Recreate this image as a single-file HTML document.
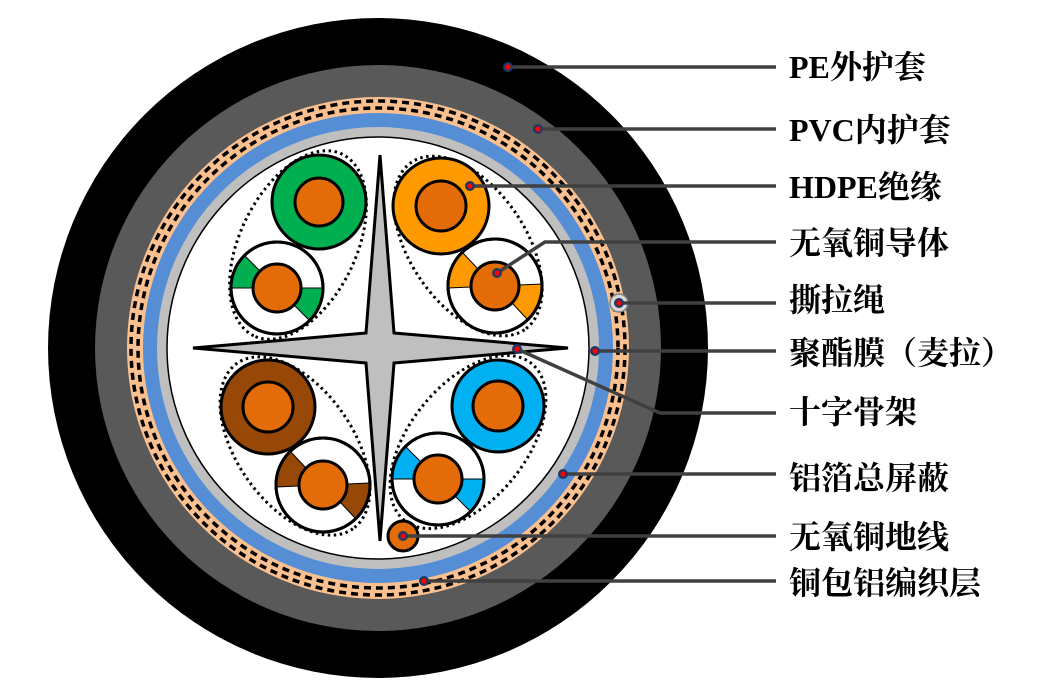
<!DOCTYPE html>
<html><head><meta charset="utf-8"><style>
html,body{margin:0;padding:0;background:#fff;width:1042px;height:688px;overflow:hidden}
text{font-family:"Liberation Serif","Noto Serif CJK SC",serif;font-weight:bold;font-size:32px;fill:#000}
</style></head><body>
<svg width="1042" height="688" viewBox="0 0 1042 688" xmlns="http://www.w3.org/2000/svg">
<defs>
<g id="dot"><circle r="5" fill="#1f3864"/><circle r="2.6" fill="#ff0000"/></g>
</defs>
<circle cx="378" cy="348" r="330" fill="#000"/>
<circle cx="378" cy="348" r="283" fill="#595959"/>
<circle cx="378" cy="348" r="251" fill="#fac090"/>
<circle cx="378" cy="348" r="247" fill="none" stroke="#000" stroke-width="3.5" stroke-dasharray="7,5"/>
<circle cx="378" cy="348" r="240" fill="none" stroke="#000" stroke-width="3.5" stroke-dasharray="7,5"/>
<circle cx="378" cy="348" r="235" fill="#558ed5"/>
<circle cx="378" cy="348" r="221" fill="#bfbfbf"/>
<circle cx="378" cy="348" r="211" fill="#fff" stroke="#000" stroke-width="1.5"/>

<g fill="none" stroke="#000" stroke-width="3" stroke-dasharray="2.5,3.5">
<ellipse cx="298" cy="245" rx="101" ry="58" transform="rotate(116 298 245)"/>
<ellipse cx="468" cy="246" rx="101" ry="58" transform="rotate(56 468 246)"/>
<ellipse cx="295" cy="446" rx="101" ry="58" transform="rotate(55 295 446)"/>
<ellipse cx="468" cy="442" rx="101" ry="58" transform="rotate(129 468 442)"/>
</g>

<g stroke="#000" stroke-width="3">
<circle cx="319" cy="202" r="47" fill="#00b050"/><circle cx="319" cy="202" r="24" fill="#e36c09"/>
<circle cx="441" cy="206" r="48" fill="#ff9900"/><circle cx="441" cy="206" r="25" fill="#e36c09"/>
<circle cx="268" cy="407" r="47" fill="#974706"/><circle cx="268" cy="407" r="25" fill="#e36c09"/>
<circle cx="498" cy="406" r="46" fill="#00b0f0"/><circle cx="498" cy="406" r="25" fill="#e36c09"/>
</g>

<g>
<circle cx="277" cy="288" r="46" fill="#fff" stroke="#000" stroke-width="3"/>
<path d="M231,288 L253,288 A24,24 0 0 1 260,271 L244.5,255.5 A46,46 0 0 0 231,288Z" fill="#00b050" stroke="#000" stroke-width="1"/>
<path d="M323,288 L301,288 A24,24 0 0 1 294,305 L309.5,320.5 A46,46 0 0 0 323,288Z" fill="#00b050" stroke="#000" stroke-width="1"/>
<circle cx="277" cy="288" r="46" fill="none" stroke="#000" stroke-width="3"/>
<circle cx="277" cy="288" r="24" fill="#e36c09" stroke="#000" stroke-width="3"/>
</g>
<g>
<circle cx="495" cy="286" r="47" fill="#fff" stroke="#000" stroke-width="3"/>
<path d="M448,288 L471,287 A24,24 0 0 1 478,269 L462,252 A47,47 0 0 0 448,288Z" fill="#ff9900" stroke="#000" stroke-width="1"/>
<path d="M542,284 L519,285 A24,24 0 0 1 512,303 L528,320 A47,47 0 0 0 542,284Z" fill="#ff9900" stroke="#000" stroke-width="1"/>
<circle cx="495" cy="286" r="47" fill="none" stroke="#000" stroke-width="3"/>
<circle cx="495" cy="286" r="24" fill="#e36c09" stroke="#000" stroke-width="3"/>
</g>
<g>
<circle cx="323" cy="485" r="47" fill="#fff" stroke="#000" stroke-width="3"/>
<path d="M276,487 L299,486 A24,24 0 0 1 306,468 L290,451 A47,47 0 0 0 276,487Z" fill="#974706" stroke="#000" stroke-width="1"/>
<path d="M370,483 L347,484 A24,24 0 0 1 340,502 L356,519 A47,47 0 0 0 370,483Z" fill="#974706" stroke="#000" stroke-width="1"/>
<circle cx="323" cy="485" r="47" fill="none" stroke="#000" stroke-width="3"/>
<circle cx="323" cy="485" r="24" fill="#e36c09" stroke="#000" stroke-width="3"/>
</g>
<g>
<circle cx="438" cy="479" r="46" fill="#fff" stroke="#000" stroke-width="3"/>
<path d="M392,479 L414,479 A24,24 0 0 1 421,462 L405.5,446.5 A46,46 0 0 0 392,479Z" fill="#00b0f0" stroke="#000" stroke-width="1"/>
<path d="M484,479 L462,479 A24,24 0 0 1 455,496 L470.5,511.5 A46,46 0 0 0 484,479Z" fill="#00b0f0" stroke="#000" stroke-width="1"/>
<circle cx="438" cy="479" r="46" fill="none" stroke="#000" stroke-width="3"/>
<circle cx="438" cy="479" r="24" fill="#e36c09" stroke="#000" stroke-width="3"/>
</g>

<path d="M380,155 L394,333 L568,348 L394,363 L380,541 L366,363 L193,348 L366,333 Z" fill="#bfbfbf" stroke="#000" stroke-width="3"/>

<circle cx="403" cy="536" r="15" fill="#e36c09" stroke="#000" stroke-width="3"/>
<circle cx="619" cy="303" r="9" fill="#d9d9d9" stroke="#7f7f7f" stroke-width="1.5"/>

<g stroke="#404040" stroke-width="3.5" fill="none">
<line x1="508" y1="67" x2="776" y2="67"/>
<line x1="538" y1="129" x2="776" y2="129"/>
<line x1="470" y1="186" x2="776" y2="186"/>
<polyline points="497,273 545,242 776,242"/>
<line x1="619" y1="303" x2="776" y2="303"/>
<line x1="595" y1="351" x2="776" y2="351"/>
<polyline points="517,349 660,413 776,413"/>
<line x1="563" y1="474" x2="776" y2="474"/>
<line x1="403" y1="536" x2="776" y2="536"/>
<line x1="424" y1="581" x2="776" y2="581"/>
</g>
<use href="#dot" x="508" y="67"/>
<use href="#dot" x="538" y="129"/>
<use href="#dot" x="470" y="186"/>
<use href="#dot" x="497" y="273"/>
<use href="#dot" x="619" y="303"/>
<use href="#dot" x="595" y="351"/>
<use href="#dot" x="517" y="349"/>
<use href="#dot" x="563" y="474"/>
<use href="#dot" x="403" y="536"/>
<use href="#dot" x="424" y="581"/>

<g dominant-baseline="central">
<text x="789" y="67">PE外护套</text>
<text x="789" y="130">PVC内护套</text>
<text x="789" y="187">HDPE绝缘</text>
<text x="789" y="243">无氧铜导体</text>
<text x="789" y="300">撕拉绳</text>
<text x="789" y="353">聚酯膜（麦拉）</text>
<text x="789" y="412">十字骨架</text>
<text x="789" y="478">铝箔总屏蔽</text>
<text x="789" y="537">无氧铜地线</text>
<text x="789" y="583">铜包铝编织层</text>
</g>
</svg>
</body></html>
